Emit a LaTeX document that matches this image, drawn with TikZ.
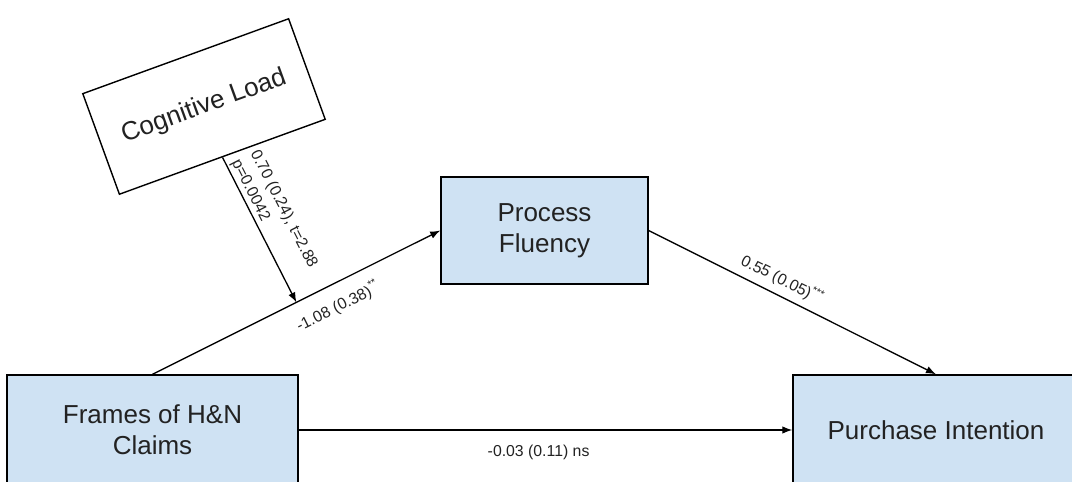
\documentclass[tikz,border=0pt]{standalone}
\usepackage{fontspec}
\setmainfont{Liberation Sans}
\usepackage{xcolor}
\usetikzlibrary{arrows.meta,calc,positioning}
\definecolor{boxblue}{HTML}{CFE2F3}
\definecolor{inkgray}{HTML}{222222}
\tikzset{
  varbox/.style={draw=black, line width=0.8pt, fill=boxblue, align=center, text=inkgray,
    font=\fontsize{14.8}{17.5}\selectfont, inner sep=0pt},
  lbl/.style={font=\fontsize{9}{12}\selectfont, inner sep=1pt, text=inkgray},
}

\begin{document}
\begin{tikzpicture}[x=1cm,y=1cm,>={Latex[length=2mm,width=1.5mm]}]
  \useasboundingbox (0,0) rectangle (21.44,9.64);
  % variables
  \node[varbox, minimum width=5.82cm, minimum height=2.2cm] (frames) at (3.05,1.04) {Frames of H\&N\\Claims};
  \node[varbox, minimum width=5.72cm, minimum height=2.2cm] (purchase) at (18.72,1.04) {Purchase Intention};
  \node[varbox, minimum width=4.14cm, minimum height=2.14cm] (process) at (10.89,5.03) {Process\\Fluency};
  \node[varbox, fill=white, rotate=20, minimum width=4.38cm, minimum height=2.14cm] (cogload) at (4.08,7.51) {Cognitive Load};
  \coordinate (mod) at ($(frames.north)!0.5!(process.west)$);
  % paths
  \draw[line width=0.75pt,->] (frames.north) -- (process.west)
    node[lbl, pos=0.61, sloped, below=0.22cm] {-1.08 (0.38)\textsuperscript{**}};
  \draw[line width=0.75pt,->] (process.east) -- (purchase.north)
    node[lbl, pos=0.44, sloped, above=0.1cm] {0.55 (0.05)\textsuperscript{***}};
  \draw[line width=0.75pt,->] (frames.east) -- (purchase.west)
    node[lbl, pos=0.486, below=0.26cm] {-0.03 (0.11) ns};
  \draw[line width=0.75pt,->] (cogload.south) -- (mod)
    node[lbl, pos=0.04, sloped, anchor=south west, align=left] {0.70 (0.24), t=2.88\\p=0.0042};
\end{tikzpicture}
\end{document}
